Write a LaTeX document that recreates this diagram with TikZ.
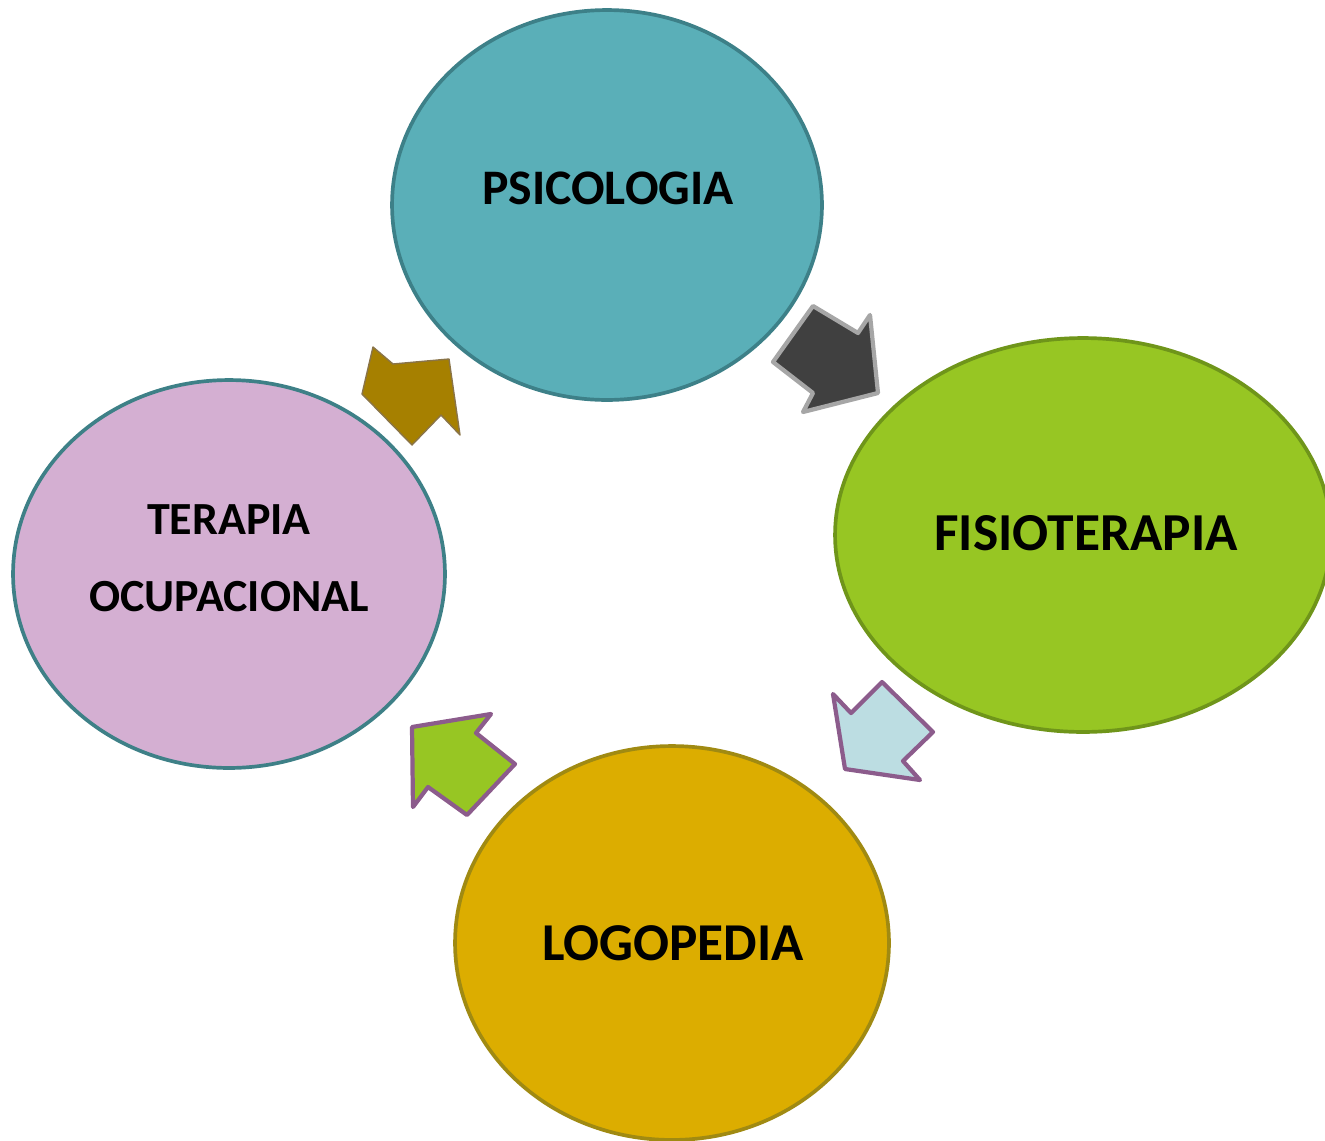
\documentclass[tikz,border=0pt]{standalone}
\usepackage{fontspec}
\setmainfont{Carlito}
\usetikzlibrary{shapes.geometric}
\definecolor{psicofill}{HTML}{5AAFB8}
\definecolor{psicoline}{HTML}{3D8088}
\definecolor{fisiofill}{HTML}{97C623}
\definecolor{fisioline}{HTML}{6F951A}
\definecolor{logofill}{HTML}{DCAD00}
\definecolor{logoline}{HTML}{A08A12}
\definecolor{terapfill}{HTML}{D4AFD2}
\definecolor{terapline}{HTML}{3E8087}
\definecolor{darkarrow}{HTML}{404040}
\definecolor{darkedge}{HTML}{A6A6A6}
\definecolor{bluearrow}{HTML}{BCDDE2}
\definecolor{purpleedge}{HTML}{8C5C8C}
\definecolor{goldarrow}{HTML}{A68000}
\definecolor{goldedge}{HTML}{8A7448}
\tikzset{
  area/.style={ellipse, line width=2.1pt, inner sep=0pt},
  areatext/.style={font=\bfseries, text=black, align=center},
  blockarrow/.style={line width=2.4pt, line join=round}
}
\begin{document}
\begin{tikzpicture}[x=0.02cm, y=-0.02cm]
\useasboundingbox (0,0) rectangle (1325,1140);
%circles
\node[area, draw=psicoline, fill=psicofill, minimum width=8.6cm, minimum height=7.8cm] (psico) at (607,205) {};
\node[area, draw=fisioline, fill=fisiofill, minimum width=9.92cm, minimum height=7.88cm] (fisio) at (1083,535) {};
\node[area, draw=logoline, fill=logofill, minimum width=8.68cm, minimum height=7.88cm] (logo) at (672,943) {};
\node[area, draw=terapline, fill=terapfill, minimum width=8.64cm, minimum height=7.76cm] (terap) at (229,574) {};
%labels
\node[areatext, font=\bfseries\fontsize{28.3}{30}\selectfont] (psicotxt) at (608,188) {PSICOLOGIA};
\node[areatext, font=\bfseries\fontsize{30.4}{32}\selectfont] (fisiotxt) at (1086,533) {FISIOTERAPIA};
\node[areatext, font=\bfseries\fontsize{30.3}{32}\selectfont] (logotxt) at (673,943) {LOGOPEDIA};
\node[areatext, font=\bfseries\fontsize{26.2}{28}\selectfont] (terap1) at (229,520) {TERAPIA};
\node[areatext, font=\bfseries\fontsize{26.2}{28}\selectfont] (terap2) at (229,597) {OCUPACIONAL};
%psicologia -> fisioterapia
\draw[blockarrow, draw=darkedge, fill=darkarrow] (773,362) -- (813,306) -- (858,333) -- (870,315)
  -- (878,393) -- (803,412) -- (813,393) -- cycle;
%fisioterapia -> logopedia
\draw[blockarrow, draw=purpleedge, fill=bluearrow] (833,694) -- (851,713) -- (882,682) -- (933,732)
  -- (903,761) -- (920,780) -- (845,769) -- cycle;
%logopedia -> terapia
\draw[blockarrow, draw=purpleedge, fill=fisiofill] (412,727) -- (491,714) -- (476,733) -- (515,764)
  -- (467,815) -- (428,787) -- (413,807) -- cycle;
%terapia -> psicologia
\draw[line width=0.8pt, line join=round, draw=goldedge, fill=goldarrow] (373,347) -- (393,364) -- (449,359)
  -- (460,435) -- (441,415) -- (412,445) -- (362,394) -- cycle;
\end{tikzpicture}
\end{document}
